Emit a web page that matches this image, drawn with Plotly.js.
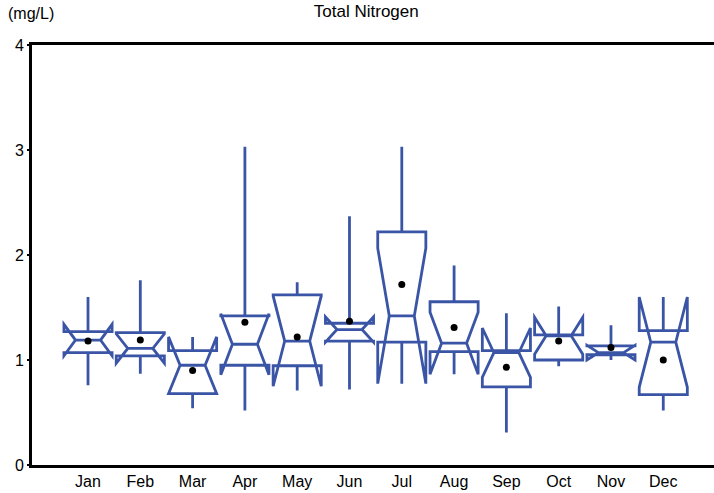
<!DOCTYPE html>
<html>
<head>
<meta charset="utf-8">
<script src="https://cdn.plot.ly/plotly-3.0.1.min.js"></script>
<style>html,body{margin:0;padding:0;background:#fff;overflow:hidden}#chart{width:714px;height:493px}</style>
</head>
<body>
<div id="chart"></div>
<script>
const months = ['Jan','Feb','Mar','Apr','May','Jun','Jul','Aug','Sep','Oct','Nov','Dec'];
const q1Vals     = [1.07, 1.04, 0.68, 0.95, 0.945, 1.18, 1.17, 1.08, 0.745, 1.00, 1.05, 0.67];
const medianVals = [1.19, 1.11, 0.95, 1.15, 1.18, 1.29, 1.42, 1.16, 1.07, 1.23, 1.07, 1.17];
const q3Vals     = [1.27, 1.26, 1.09, 1.42, 1.62, 1.35, 2.22, 1.555, 1.09, 1.24, 1.135, 1.28];
const notchVals  = [0.15, 0.14, 0.27, 0.29, 0.43, 0.12, 0.645, 0.295, 0.235, 0.175, 0.07, 0.43];
const lowerVals  = [0.76, 0.87, 0.54, 0.52, 0.71, 0.72, 1.05, 1.03, 0.31, 0.94, 1.03, 0.52];
const upperVals  = [1.60, 1.76, 1.18, 3.03, 1.74, 2.37, 3.03, 1.90, 1.445, 1.51, 1.33, 1.365];
const meanVals   = [1.18, 1.19, 0.90, 1.36, 1.22, 1.37, 1.72, 1.31, 0.93, 1.18, 1.12, 1.00];
const yTicks = [0, 1, 2, 3, 4];

const boxColor = '#3a55a6';
const font = 'Liberation Sans, Arial, sans-serif';

const traces = [
  {
    type: 'box',
    x: months,
    q1: q1Vals,
    median: medianVals,
    q3: q3Vals,
    lowerfence: lowerVals,
    upperfence: upperVals,
    notchspan: notchVals,
    notched: true,
    notchwidth: 0.24,
    width: 0.92,
    whiskerwidth: 0,
    boxpoints: false,
    line: {color: boxColor, width: 2.8},
    fillcolor: 'rgba(0,0,0,0)',
    showlegend: false,
    hoverinfo: 'skip'
  },
  {
    type: 'scatter',
    mode: 'markers',
    x: months,
    y: meanVals,
    marker: {color: '#000', size: 7},
    showlegend: false,
    hoverinfo: 'skip'
  }
];

const layout = {
  width: 714,
  height: 493,
  margin: {l: 32, r: 0, t: 45, b: 28},
  paper_bgcolor: '#fff',
  plot_bgcolor: '#fff',
  font: {family: font, size: 16, color: '#000'},
  title: {text: 'Total Nitrogen', font: {family: font, size: 17, color: '#000'},
          x: 0.513, xref: 'container', xanchor: 'center', y: 0.978, yref: 'container', yanchor: 'middle'},
  xaxis: {
    type: 'category',
    range: [-1.071, 11.97],
    showline: true, linecolor: '#000', linewidth: 3, mirror: true,
    showgrid: false, zeroline: false, ticks: '',
    tickfont: {family: font, size: 16, color: '#000'}
  },
  yaxis: {
    range: [0, 4],
    tickvals: yTicks,
    ticktext: yTicks.map(String),
    showline: true, linecolor: '#000', linewidth: 3,
    showgrid: false, zeroline: false,
    ticks: 'outside', ticklen: 2, tickwidth: 1.5, tickcolor: '#000',
    tickfont: {family: font, size: 16, color: '#000'}
  },
  annotations: [
    {text: '(mg/L)', xref: 'paper', yref: 'paper', x: -0.038, y: 1.074,
     xanchor: 'left', yanchor: 'middle', showarrow: false,
     font: {family: font, size: 16, color: '#000'}}
  ]
};

Plotly.newPlot('chart', traces, layout, {displayModeBar: false, staticPlot: true});
</script>
</body>
</html>
